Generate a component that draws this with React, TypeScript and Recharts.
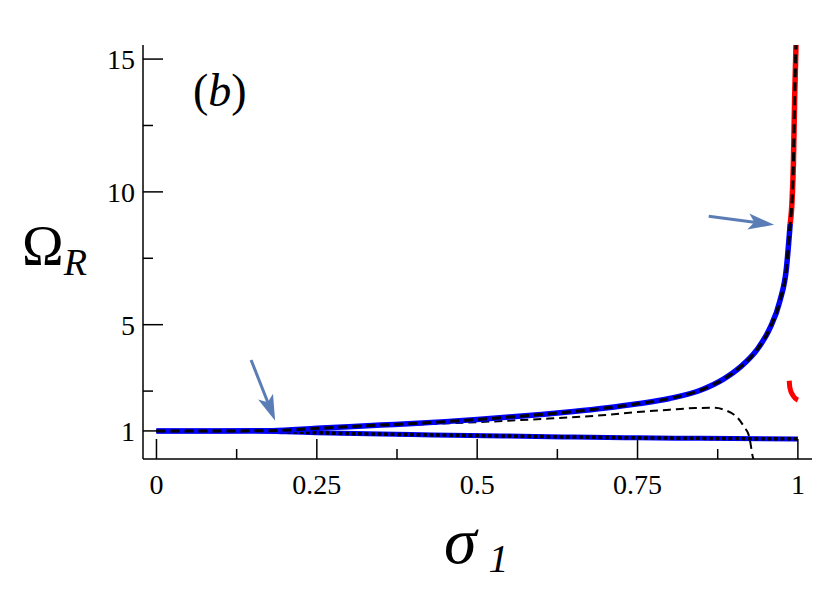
import React from 'react';
import { LineChart, Line, XAxis, YAxis, ReferenceLine, Customized } from 'recharts';

// upper branch (blue part, then red part near sigma_1 -> 1)
const upperBlueX = [0, 0.1, 0.18, 0.25, 0.3, 0.35, 0.4, 0.45, 0.5, 0.55, 0.6, 0.65, 0.7, 0.75, 0.8, 0.85, 0.884, 0.91, 0.936, 0.956, 0.972, 0.982, 0.988];
const upperBlueY = [1, 1.0, 1.01, 1.1, 1.16, 1.22, 1.28, 1.35, 1.43, 1.52, 1.62, 1.73, 1.86, 2.02, 2.22, 2.55, 2.95, 3.4, 4.05, 4.85, 5.9, 7.1, 8.8];
const upperRedX = [0.988, 0.991, 0.993, 0.995, 0.9965, 0.998];
const upperRedY = [8.8, 9.7, 11.06, 13.58, 15.0, 16.5];

// lower branch (blue, dotted overlay)
const lowerX = [0, 0.15, 0.2, 0.25, 0.35, 0.43, 0.54, 0.65, 0.75, 0.85, 1.0];
const lowerY = [1, 1.0, 0.97, 0.93, 0.88, 0.85, 0.81, 0.77, 0.74, 0.72, 0.7];

// thin dashed approximation
const approxX = [0, 0.1, 0.2, 0.3, 0.4, 0.5, 0.6, 0.7, 0.75, 0.8, 0.84, 0.87, 0.89, 0.9, 0.91, 0.917, 0.923, 0.926, 0.929, 0.931];
const approxY = [1, 1.01, 1.05, 1.15, 1.24, 1.33, 1.45, 1.6, 1.71, 1.8, 1.86, 1.87, 1.75, 1.62, 1.38, 1.12, 0.87, 0.55, 0.1, -0.1];

// short red piece near sigma_1 = 1
const redPieceX = [0.9865, 0.9875, 0.9927, 1.0];
const redPieceY = [2.89, 2.63, 2.32, 2.16];

// arrows: [fromX, fromY, toX, toY]
const arrowLow = [0.1475, 3.67, 0.185, 1.38];
const arrowHigh = [0.861, 9.08, 0.963, 8.76];

const xTicks = [0, 0.125, 0.25, 0.375, 0.5, 0.625, 0.75, 0.875, 1];
const xLabels = [0, 0.25, 0.5, 0.75, 1];
const yTicks = [1, 2.5, 5, 7.5, 10, 12.5, 15];
const yLabels = [1, 5, 10, 15];

const toPoints = (xs: number[], ys: number[]) => xs.map((x, i) => ({ x, y: ys[i] }));

const upperBlue = toPoints(upperBlueX, upperBlueY);
const upperRed = toPoints(upperRedX, upperRedY);
const upperAll = toPoints([...upperBlueX, ...upperRedX.slice(1)], [...upperBlueY, ...upperRedY.slice(1)]);
const lower = toPoints(lowerX, lowerY);
const approx = toPoints(approxX, approxY);
const redPiece = toPoints(redPieceX, redPieceY);

const FONT = 'Liberation Serif';
const ARROW = '#5b7db6';

const XTick = (props: any) => {
  const { x, y, payload } = props;
  const major = xLabels.includes(payload.value);
  return (
    <g>
      <line x1={x} x2={x} y1={y} y2={y - (major ? 20 : 10)} stroke="#000" strokeWidth={1.5} />
      {major && (
        <text x={x} y={y + 35} textAnchor="middle" fontFamily={FONT} fontSize={28} fill="#000">
          {payload.value}
        </text>
      )}
    </g>
  );
};

const YTick = (props: any) => {
  const { x, y, payload } = props;
  const major = yLabels.includes(payload.value);
  return (
    <g>
      <line x1={x} x2={x + (major ? 20 : 10)} y1={y} y2={y} stroke="#000" strokeWidth={1.5} />
      {major && (
        <text x={x - 8} y={y + 10} textAnchor="end" fontFamily={FONT} fontSize={28} fill="#000">
          {payload.value}
        </text>
      )}
    </g>
  );
};

const ArrowShape = (props: any) => {
  const { x1, y1, x2, y2 } = props;
  const dx = x2 - x1;
  const dy = y2 - y1;
  const len = Math.hypot(dx, dy) || 1;
  const ux = dx / len;
  const uy = dy / len;
  const head = 26;
  const half = 8;
  const bx = x2 - ux * head;
  const by = y2 - uy * head;
  const nx = bx + ux * 6;
  const ny = by + uy * 6;
  const pts = [
    [x2, y2],
    [bx - uy * half, by + ux * half],
    [nx, ny],
    [bx + uy * half, by - ux * half],
  ]
    .map((p) => p.join(','))
    .join(' ');
  return (
    <g>
      <line x1={x1} y1={y1} x2={nx} y2={ny} stroke={ARROW} strokeWidth={3} />
      <polygon points={pts} fill={ARROW} />
    </g>
  );
};

const Labels = () => (
  <g fill="#000">
    <text x={193} y={106} fontSize={46} fontFamily={FONT}>
      (<tspan fontStyle="italic">b</tspan>)
    </text>
    <text x={22} y={265} fontSize={56} fontFamily={FONT}>
      Ω
      <tspan fontStyle="italic" fontSize={38} dy={10}>R</tspan>
    </text>
    <text x={444} y={563} fontSize={66} fontStyle="italic" fontFamily={FONT}>
      σ
      <tspan fontSize={40} dy={9} dx={12}>1</tspan>
    </text>
  </g>
);

export default function App() {
  return (
    <div style={{ position: 'absolute', left: 0, top: 0, background: '#fff' }}>
      <LineChart width={830} height={602} margin={{ top: 45, right: 18, bottom: 0, left: 0 }}>
        <XAxis
          dataKey="x"
          type="number"
          domain={[-0.021, 1.022]}
          allowDataOverflow
          ticks={xTicks}
          interval={0}
          tickSize={0}
          tickMargin={0}
          tick={<XTick />}
          height={143}
          axisLine={{ stroke: '#000', strokeWidth: 1.5 }}
        />
        <XAxis
          xAxisId="top"
          orientation="top"
          type="number"
          domain={[-0.021, 1.022]}
          allowDataOverflow
          tick={false}
          tickLine={false}
          height={0}
          axisLine={{ stroke: '#000', strokeWidth: 1.5 }}
        />
        <YAxis
          dataKey="y"
          type="number"
          domain={[-0.057, 15.53]}
          allowDataOverflow
          ticks={yTicks}
          interval={0}
          tickSize={0}
          tickMargin={0}
          tick={<YTick />}
          width={143}
          axisLine={{ stroke: '#000', strokeWidth: 1.5 }}
        />
        <YAxis
          yAxisId="right"
          orientation="right"
          type="number"
          domain={[-0.057, 15.53]}
          allowDataOverflow
          tick={false}
          tickLine={false}
          width={0}
          axisLine={{ stroke: '#000', strokeWidth: 1.5 }}
        />
        <Line data={approx} dataKey="y" type="monotone" stroke="#000" strokeWidth={2} strokeDasharray="8 5" dot={false} isAnimationActive={false} />
        <Line data={lower} dataKey="y" type="monotone" stroke="#0000ff" strokeWidth={5} dot={false} isAnimationActive={false} />
        <Line data={lower} dataKey="y" type="monotone" stroke="#000" strokeWidth={3.5} strokeDasharray="4 2.5" dot={false} isAnimationActive={false} />
        <Line data={upperBlue} dataKey="y" type="monotone" stroke="#0000ff" strokeWidth={5.5} dot={false} isAnimationActive={false} />
        <Line data={upperRed} dataKey="y" type="monotone" stroke="#ff0000" strokeWidth={5.5} dot={false} isAnimationActive={false} />
        <Line data={upperAll} dataKey="y" type="monotone" stroke="#000" strokeWidth={3} strokeDasharray="9 5" dot={false} isAnimationActive={false} />
        <Line data={redPiece} dataKey="y" type="monotone" stroke="#ff0000" strokeWidth={5} dot={false} isAnimationActive={false} />
        <ReferenceLine
          segment={[{ x: arrowLow[0], y: arrowLow[1] }, { x: arrowLow[2], y: arrowLow[3] }]}
          shape={ArrowShape}
          ifOverflow="visible"
        />
        <ReferenceLine
          segment={[{ x: arrowHigh[0], y: arrowHigh[1] }, { x: arrowHigh[2], y: arrowHigh[3] }]}
          shape={ArrowShape}
          ifOverflow="visible"
        />
        <Customized component={Labels} />
      </LineChart>
    </div>
  );
}
